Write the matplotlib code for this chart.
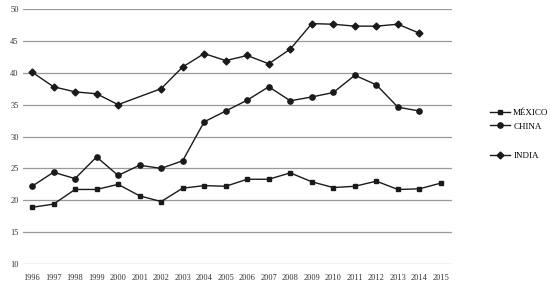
import matplotlib
matplotlib.use("Agg")
import matplotlib.pyplot as plt
from matplotlib.lines import Line2D

years = list(range(1996, 2016))
mexico = [18.9, 19.4, 21.7, 21.7, 22.5, 20.7, 19.8, 21.9, 22.3, 22.2,
          23.3, 23.3, 24.3, 22.9, 22.0, 22.2, 23.0, 21.7, 21.8, 22.7]
china_years = list(range(1996, 2015))
china = [22.2, 24.4, 23.4, 26.8, 23.9, 25.5, 25.0, 26.2, 32.3, 34.0,
         35.7, 37.8, 35.6, 36.2, 36.9, 39.6, 38.1, 34.6, 34.0]
india_years = [1996, 1997, 1998, 1999, 2000, 2002, 2003, 2004, 2005, 2006,
               2007, 2008, 2009, 2010, 2011, 2012, 2013, 2014]
india = [40.1, 37.8, 37.0, 36.7, 35.0, 37.5, 40.9, 43.0, 41.9, 42.7,
         41.4, 43.7, 47.7, 47.6, 47.3, 47.3, 47.6, 46.2]

plt.rcParams['font.family'] = ['Liberation Serif', 'DejaVu Serif']

fig = plt.figure(figsize=(5.6, 2.88), dpi=100)
ax = fig.add_axes([0.041, 0.083, 0.766, 0.886])

col = '#1a1a1a'
ax.plot(years, mexico, color=col, lw=1, marker='s', ms=3.5)
ax.plot(china_years, china, color=col, lw=1, marker='o', ms=3.8)
ax.plot(india_years, india, color=col, lw=1, marker='D', ms=3.5)

ax.set_ylim(10, 50)
ax.set_xlim(1995.58, 2015.51)
ax.set_yticks(range(10, 51, 5))
ax.set_xticks(years)
ax.tick_params(length=0, labelsize=6, colors='#333333', pad=3)
ax.tick_params(axis='x', pad=7)
ax.grid(axis='y', color='#999999', lw=0.9)
ax.set_axisbelow(True)
for s in ax.spines.values():
    s.set_visible(False)

h1 = [Line2D([], [], color=col, lw=1, marker='s', ms=3.5),
      Line2D([], [], color=col, lw=1, marker='o', ms=3.8)]
leg1 = fig.legend(h1, ['MÉXICO', 'CHINA'], loc='center left',
                  bbox_to_anchor=(0.86, 0.585), frameon=False, fontsize=6.5,
                  handlelength=2.2, handletextpad=0.4, labelspacing=0.6)
h2 = [Line2D([], [], color=col, lw=1, marker='D', ms=3.5)]
fig.legend(h2, ['INDIA'], loc='center left', bbox_to_anchor=(0.86, 0.46),
           frameon=False, fontsize=6.5, handlelength=2.2, handletextpad=0.4)

fig.savefig('out.png', dpi=100)
